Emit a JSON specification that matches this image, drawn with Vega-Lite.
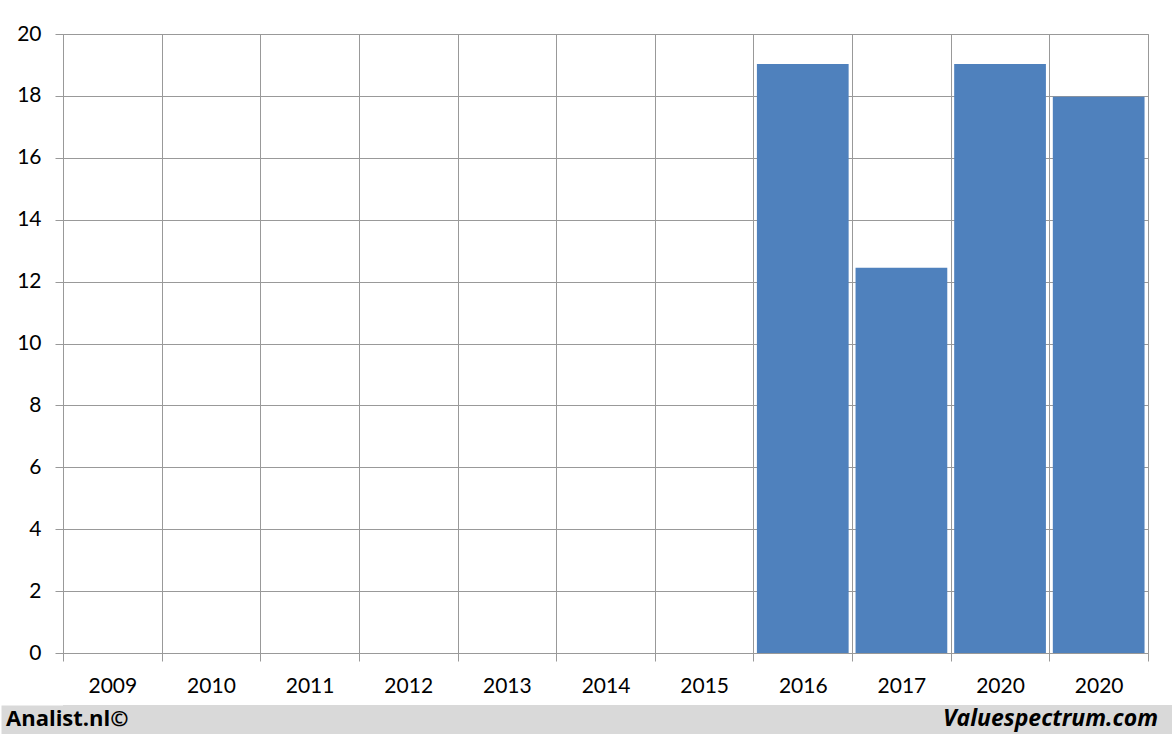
{
  "$schema": "https://vega.github.io/schema/vega-lite/v6.json",
  "background": "white",
  "padding": {"left": 0, "top": 22, "right": 0, "bottom": 0},
  "spacing": 0,
  "vconcat": [
    {
      "width": 1085,
      "height": 619,
      "data": {
        "values": [
          {"slot": "2009", "value": null},
          {"slot": "2010", "value": null},
          {"slot": "2011", "value": null},
          {"slot": "2012", "value": null},
          {"slot": "2013", "value": null},
          {"slot": "2014", "value": null},
          {"slot": "2015", "value": null},
          {"slot": "2016", "value": 19.03},
          {"slot": "2017", "value": 12.45},
          {"slot": "2020a", "value": 19.03},
          {"slot": "2020b", "value": 17.97}
        ]
      },
      "mark": {"type": "bar", "color": "#4F81BD", "width": {"band": 0.93}},
      "encoding": {
        "x": {
          "field": "slot",
          "type": "nominal",
          "scale": {
            "domain": ["2009", "2010", "2011", "2012", "2013", "2014", "2015", "2016", "2017", "2020a", "2020b"],
            "paddingInner": 0,
            "paddingOuter": 0
          },
          "axis": {
            "title": null,
            "labelExpr": "slice(datum.label, 0, 4)",
            "labelAngle": 0,
            "tickBand": "extent",
            "grid": true,
            "gridColor": "#999999",
            "tickColor": "#999999",
            "tickSize": 8,
            "domain": false,
            "labelFont": "Lato",
            "labelFontSize": 21,
            "labelColor": "#000000",
            "labelPadding": 14,
            "minExtent": 51,
            "maxExtent": 51
          }
        },
        "y": {
          "field": "value",
          "type": "quantitative",
          "scale": {"domain": [0, 20], "nice": false},
          "axis": {
            "title": null,
            "values": [0, 2, 4, 6, 8, 10, 12, 14, 16, 18, 20],
            "grid": true,
            "gridColor": "#999999",
            "tickColor": "#999999",
            "tickSize": 8,
            "domain": false,
            "labelFont": "Lato",
            "labelFontSize": 21,
            "labelColor": "#000000",
            "labelPadding": 14,
            "minExtent": 62,
            "maxExtent": 62
          }
        }
      }
    },
    {
      "width": 1110,
      "height": 31,
      "view": {"fill": "#d9d9d9", "stroke": null},
      "data": {
        "values": [
          {"side": "left", "row": "footer", "text": "Analist.nl©"},
          {"side": "right", "row": "footer", "text": "Valuespectrum.com"}
        ]
      },
      "encoding": {
        "x": {"field": "side", "type": "nominal", "scale": {"type": "point", "padding": 0}, "axis": null},
        "y": {
          "field": "row",
          "type": "nominal",
          "scale": {"paddingInner": 0, "paddingOuter": 0},
          "axis": {"title": null, "labels": false, "ticks": false, "grid": false, "domain": true, "domainColor": "#d9d9d9", "domainWidth": 124, "domainCap": "butt", "minExtent": 62, "maxExtent": 62}
        },
        "text": {"field": "text"}
      },
      "layer": [
        {
          "transform": [{"filter": "datum.side === 'left'"}],
          "mark": {"type": "text", "align": "left", "baseline": "middle", "dx": -57, "dy": -2, "font": "Open Sans", "fontWeight": "bold", "fontSize": 22, "color": "#000000"}
        },
        {
          "transform": [{"filter": "datum.side === 'right'"}],
          "mark": {"type": "text", "align": "right", "baseline": "middle", "dx": -15, "dy": -2, "font": "Open Sans", "fontWeight": "bold", "fontStyle": "italic", "fontSize": 23, "color": "#000000"}
        }
      ]
    }
  ],
  "config": {"view": {"stroke": "#999999"}}
}
